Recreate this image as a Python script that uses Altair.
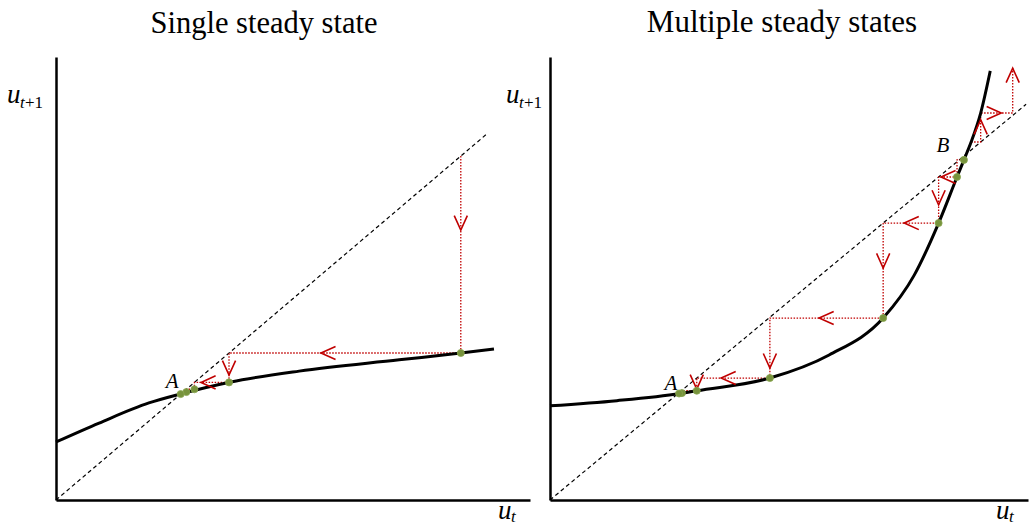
import altair as alt
import pandas as pd

# ---------------- data ----------------
# Left panel: single steady state
L_curve_x = [0.0, 0.91, 1.96, 2.62, 3.69, 5.13, 7.24, 8.54, 9.24]
L_curve_y = [1.44, 1.91, 2.41, 2.63, 2.93, 3.20, 3.48, 3.65, 3.75]
L_diag = [0.0, 9.09]
L_web_x = [8.54, 8.54, 3.65, 3.65, 2.92, 2.92, 2.75, 2.75, 2.66]
L_web_y = [8.54, 3.65, 3.65, 2.92, 2.92, 2.75, 2.75, 2.68, 2.68]
L_dot_x = [8.54, 3.65, 2.92, 2.75, 2.63]
L_dot_y = [3.65, 2.92, 2.75, 2.68, 2.63]
L_arrow_x = [8.54, 5.59, 3.65, 3.06]
L_arrow_y = [6.70, 3.65, 3.10, 2.92]
L_arrow_dir = ["down", "left", "down", "left"]
L_label = ["A"]
L_label_x = [2.45]
L_label_y = [2.93]

# Right panel: multiple steady states
R_curve_x = [0.0, 1.40, 2.72, 3.07, 4.60, 5.84, 6.97, 7.62, 8.13, 8.515, 8.66, 8.81, 9.01, 9.21]
R_curve_y = [2.37, 2.50, 2.68, 2.75, 3.07, 3.65, 4.58, 5.66, 6.97, 8.13, 8.56, 9.01, 9.74, 10.80]
R_diag = [0.0, 9.96]
R_webdown_x = [8.66, 8.515, 8.515, 8.13, 8.13, 6.97, 6.97, 4.60, 4.60, 3.07, 3.07, 2.72]
R_webdown_y = [8.56, 8.56, 8.13, 8.13, 6.97, 6.97, 4.58, 4.58, 3.07, 3.07, 2.75, 2.75]
R_webup_x = [8.81, 9.01, 9.01, 9.68, 9.68]
R_webup_y = [9.01, 9.01, 9.74, 9.74, 10.90]
R_dot_x = [8.66, 8.515, 8.13, 6.97, 4.60, 3.07, 2.76, 2.70]
R_dot_y = [8.56, 8.13, 6.97, 4.58, 3.07, 2.75, 2.69, 2.68]
R_arrow_x = [9.01, 9.44, 9.68, 8.18, 8.13, 7.41, 6.97, 5.63, 4.60, 3.58, 3.07]
R_arrow_y = [9.57, 9.74, 10.87, 8.13, 7.43, 6.97, 5.84, 4.58, 3.32, 3.07, 2.79]
R_arrow_dir = ["up", "right", "up", "left", "down", "left", "down", "left", "down", "left", "down"]
R_label = ["A", "B"]
R_label_x = [2.53, 8.22]
R_label_y = [2.92, 8.91]

TITLES = ["Single steady state", "Multiple steady states"]

# ---------------- styles ----------------
RED = "#c00000"
GREEN = "#77933c"
ANGLE = {"right": 0, "down": 90, "left": 180, "up": 270}
CHEVRON = "M -1 -0.45 L 0 0 L -1 0.45"
SERIF = "Liberation Serif"


def txt(s, size, x, y, italic=True):
    return alt.Chart(pd.DataFrame({"t": [s]})).mark_text(
        font=SERIF, fontStyle="italic" if italic else "normal", fontSize=size,
        align="left", baseline="alphabetic", color="black").encode(
        x=alt.value(x), y=alt.value(y), text="t:N")


def panel(title, title_dx, title_size, width, height, ymax, ylab_dx,
          cx, cy, diag, webs, dx_, dy_, ax, ay, adir, lab, lx, ly):
    xs = alt.Scale(domain=[0, 10], nice=False, zero=False)
    ys = alt.Scale(domain=[0, ymax], nice=False, zero=False)
    xax = alt.Axis(title=None, labels=False, ticks=False, grid=False,
                   domainColor="black", domainWidth=2.5)
    yax = alt.Axis(title=None, labels=False, ticks=False, grid=False,
                   domainColor="black", domainWidth=2.5)
    X = alt.X("x:Q", scale=xs, axis=xax)
    Y = alt.Y("y:Q", scale=ys, axis=yax)

    diag_df = pd.DataFrame({"x": diag, "y": diag})
    diag_l = alt.Chart(diag_df).mark_line(
        color="black", strokeWidth=1.2, strokeDash=[4, 3]).encode(x=X, y=Y)

    web_layers = []
    for wx, wy in webs:
        wdf = pd.DataFrame({"x": wx, "y": wy, "i": list(range(len(wx)))})
        web_layers.append(alt.Chart(wdf).mark_line(
            color=RED, strokeWidth=1.3, strokeDash=[1.5, 1.5]).encode(
            x=X, y=Y, order=alt.Order("i:Q")))

    curve_df = pd.DataFrame({"x": cx, "y": cy})
    curve_l = alt.Chart(curve_df).mark_line(
        color="black", strokeWidth=3, interpolate="monotone").encode(x=X, y=Y)

    arr_df = pd.DataFrame({"x": ax, "y": ay,
                           "angle": [ANGLE[d] for d in adir]})
    arr_l = alt.Chart(arr_df).mark_point(
        shape=CHEVRON, filled=False, color=RED, strokeWidth=1.6,
        size=850, opacity=1).encode(
        x=X, y=Y, angle=alt.Angle("angle:Q", scale=None))

    dot_df = pd.DataFrame({"x": dx_, "y": dy_})
    dot_l = alt.Chart(dot_df).mark_circle(
        color=GREEN, size=50, opacity=1, stroke="#8aa752", strokeWidth=0.8
    ).encode(x=X, y=Y)

    lab_df = pd.DataFrame({"x": lx, "y": ly, "t": lab})
    lab_l = alt.Chart(lab_df).mark_text(
        font=SERIF, fontStyle="italic", fontSize=21, color="black").encode(
        x=X, y=Y, text="t:N")

    # axis variable names: u_{t+1} (vertical axis) and u_t (horizontal axis)
    u1 = txt("u", 27, ylab_dx, 46)
    u1s = txt("t", 17, ylab_dx + 13, 51)
    u1p = txt("+1", 17, ylab_dx + 18, 51, italic=False)
    u0 = txt("u", 27, width - 32, height + 19)
    u0s = txt("t", 17, width - 19, height + 22)

    return alt.layer(diag_l, *web_layers, curve_l, arr_l, dot_l, lab_l,
                     u1, u1s, u1p, u0, u0s).properties(
        width=width, height=height,
        title=alt.TitleParams(title, font=SERIF, fontSize=title_size,
                              fontWeight="normal", color="black",
                              anchor="middle", frame="group", dx=title_dx,
                              offset=18))


left = panel(TITLES[0], -29, 30.5, 474, 443, 11.0, -49,
             L_curve_x, L_curve_y, L_diag, [(L_web_x, L_web_y)],
             L_dot_x, L_dot_y, L_arrow_x, L_arrow_y, L_arrow_dir,
             L_label, L_label_x, L_label_y)
right = panel(TITLES[1], -7, 31, 478, 443, 11.15, -44,
              R_curve_x, R_curve_y, R_diag,
              [(R_webdown_x, R_webdown_y), (R_webup_x, R_webup_y)],
              R_dot_x, R_dot_y, R_arrow_x, R_arrow_y, R_arrow_dir,
              R_label, R_label_x, R_label_y)

chart = alt.hconcat(left, right, spacing=20, bounds="flush").configure_view(
    stroke=None).properties(padding={"left": 7, "top": 7, "right": 0, "bottom": 0},
                            background="white")

chart.save("out.html", embed_options={"renderer": "svg", "actions": False})
